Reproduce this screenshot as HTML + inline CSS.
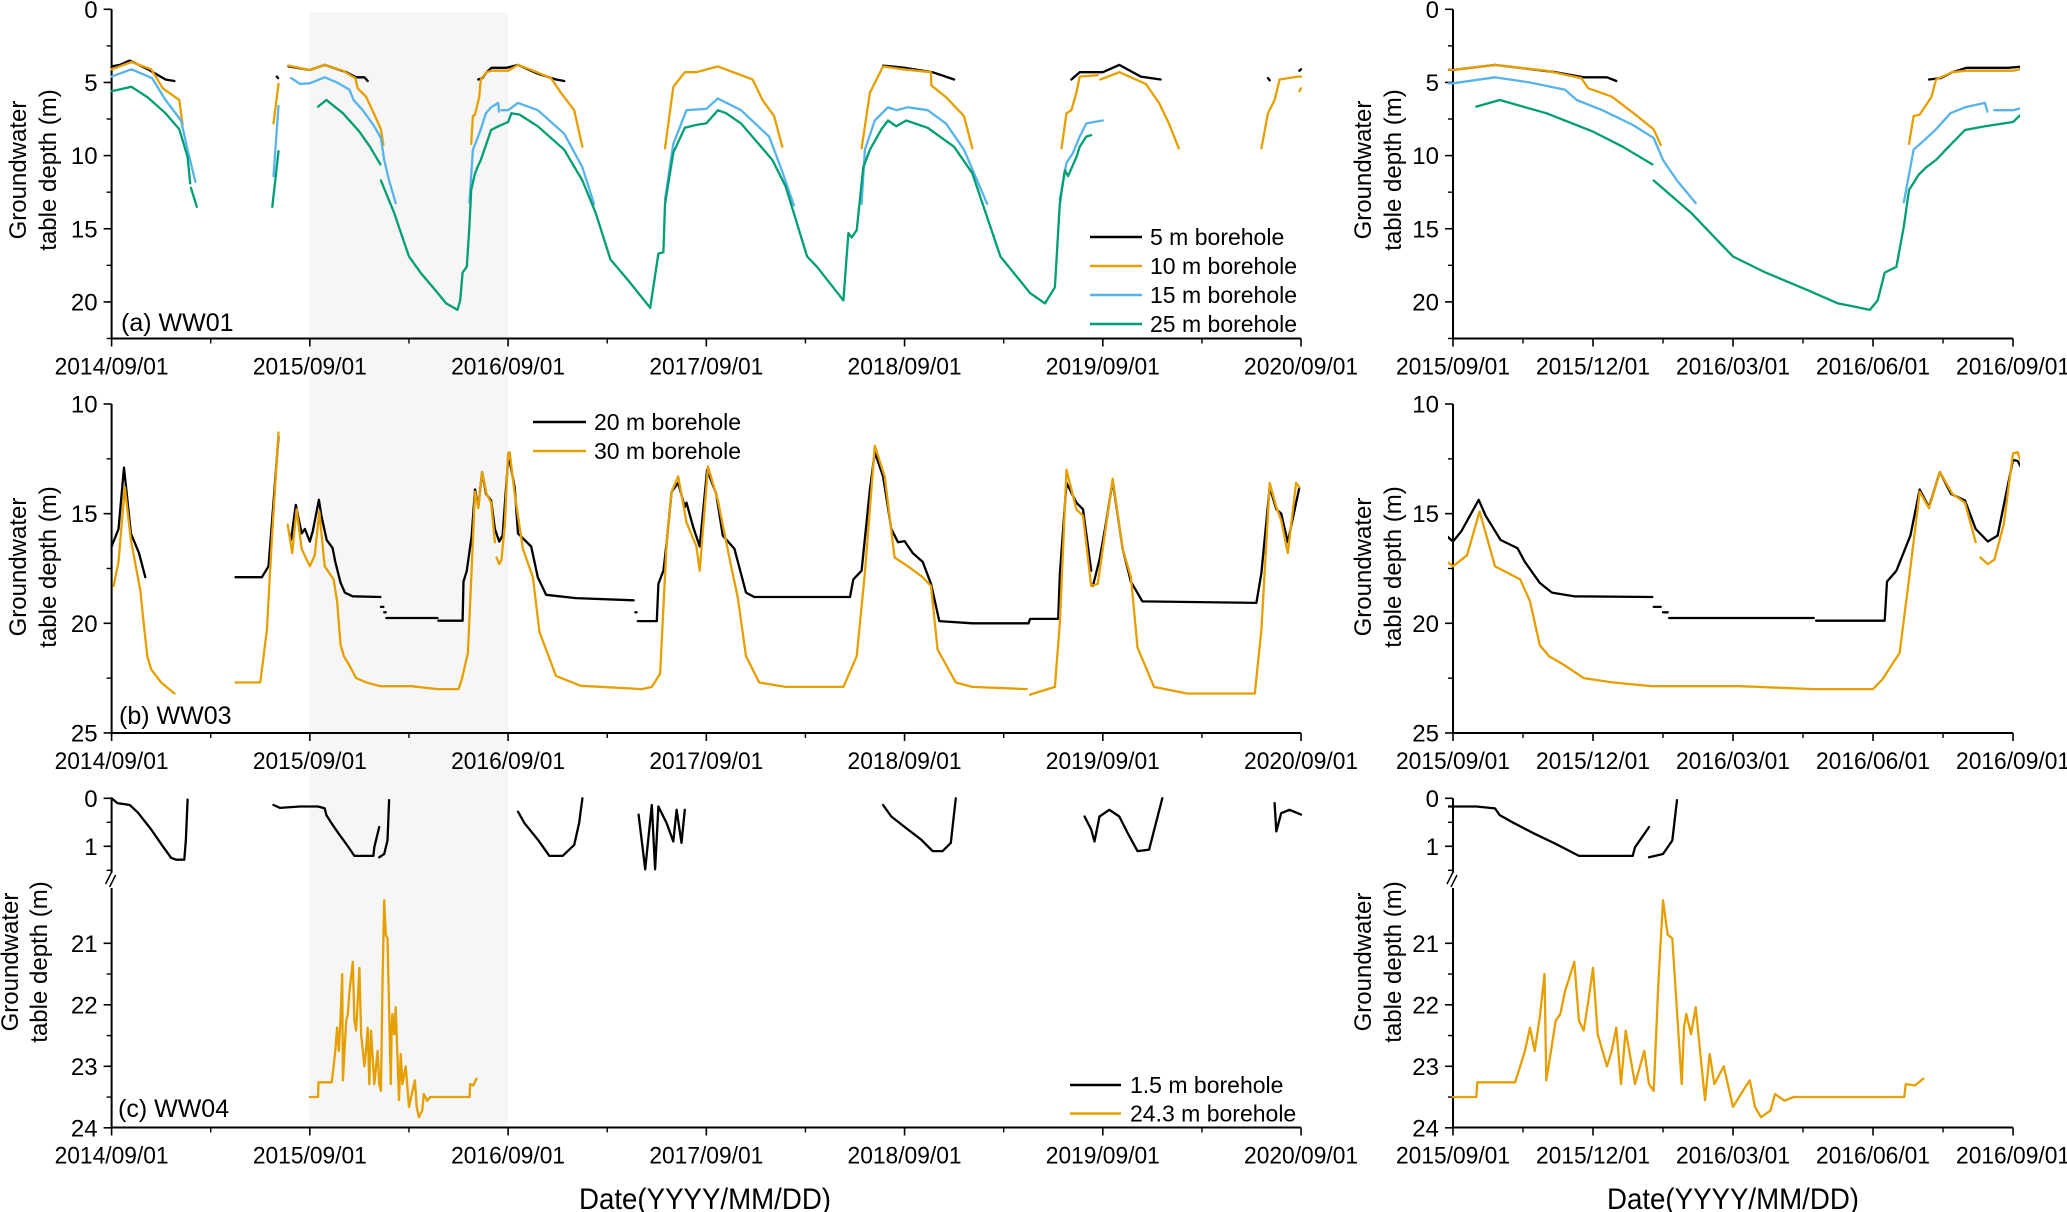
<!DOCTYPE html>
<html><head><meta charset="utf-8"><title>Groundwater table depth</title>
<style>
html,body{margin:0;padding:0;background:#fff;}
svg{display:block;font-family:"Liberation Sans",Arial,sans-serif;}
</style></head>
<body>
<svg id="chart" xmlns="http://www.w3.org/2000/svg" width="2067" height="1212" viewBox="0 0 2067 1212">
<rect x="0" y="0" width="2067" height="1212" fill="#fff"/>
</svg>
<script>
// ---- data: [month since 2014/09/01, depth m]; null = gap ----
const xTickLeftMonths = [0,12,24,36,48,60,72];
const xTickLeftLabels = ["2014/09/01","2015/09/01","2016/09/01","2017/09/01","2018/09/01","2019/09/01","2020/09/01"];
const xTickRightMonths = [12,15,18,21,24];
const xTickRightLabels = ["2015/09/01","2015/12/01","2016/03/01","2016/06/01","2016/09/01"];
const yTicksA = [0,5,10,15,20];
const yTicksB = [10,15,20,25];
const yTicksCUpper = [0,1];
const yTicksCLower = [21,22,23,24];

const wwa5 = [[0,3.9],[0.5,3.8],[1.1,3.5],[2.2,4.1],[3.26,4.8],[3.8,4.9],null,[10,4.6],[10.08,4.7],null,[10.7,3.9],[12,4.15],[12.9,3.8],[14.2,4.3],[14.8,4.65],[15.3,4.65],[15.5,4.9],null,[22.2,4.8],[22.45,4.7],[22.7,4.3],[23,4.0],[23.9,4.0],[24.6,3.8],[25.8,4.4],[26.9,4.8],[27.4,4.9],null,[46.7,3.85],[48,4.0],[49.7,4.3],[51,4.8],null,[58.1,4.8],[58.6,4.3],[60,4.3],[61,3.8],[62.3,4.6],[63.5,4.8],null,[70,4.7],[70.1,4.85],null,[71.9,4.2],[72,4.1]];
const wwa10 = [[0,4.1],[1.2,3.6],[2.4,4.1],[3.1,5.4],[4.1,6.2],[4.3,7.9],null,[9.8,7.8],[10.1,5.1],null,[10.7,3.85],[12,4.15],[12.9,3.8],[14,4.2],[14.75,4.7],[14.9,5.4],[15.4,5.97],[15.95,7.3],[16.3,8.2],[16.45,9.27],null,[21.77,9.2],[21.87,7.3],[22,7.2],[22.25,6],[22.35,4.8],[22.7,4.3],[23,4.2],[24,4.2],[24.6,3.8],[25.3,4.1],[26.6,4.7],[27.2,5.7],[28,6.9],[28.5,9.4],null,[33.5,9.5],[34,5.3],[34.7,4.3],[35.4,4.3],[36.7,3.9],[38.8,4.8],[39.4,6.2],[40.1,7.3],[40.6,9.4],null,[45.4,9.5],[45.9,5.7],[46.7,3.9],[47.9,4.1],[49.6,4.3],[49.62,5.2],[50.5,6],[51.6,7.3],[52.1,9.5],null,[57.5,9.5],[57.8,7.1],[58.1,6.9],[58.4,5.7],[58.6,4.6],[59.7,4.5],null,[59.85,4.8],[61,4.3],[62.6,5.1],[63.4,6.4],[64,7.8],[64.6,9.5],null,[69.6,9.5],[70,7.1],[70.4,6.2],[70.7,4.8],[71.8,4.6],[72,4.6],null,[71.9,5.6],[72,5.4]];
const wwa15 = [[0,4.6],[1.2,4.1],[2.45,4.7],[3.26,6.2],[4.2,7.6],[4.6,9.6],[5.07,11.8],null,[9.8,11.4],[10.1,6.6],null,[10.87,4.7],[11.4,5.1],[12,5.06],[12.9,4.65],[13.65,5.0],[14.4,5.5],[14.65,6.2],[15.2,6.9],[15.85,7.9],[16.3,8.8],[16.5,10.3],[16.8,11.7],[17.2,13.25],null,[21.66,13.2],[21.87,9.6],[22.08,9.0],[22.35,8.2],[22.66,7.1],[22.97,6.7],[23.4,6.4],[23.45,7.0],null,[23.6,6.9],[24,6.9],[24.6,6.4],[25.8,6.9],[27.4,8.5],[28.5,10.8],[29.2,13.3],null,[33.5,13],[34,9.2],[34.8,6.9],[36,6.8],[36.7,6.1],[38.1,6.9],[39.8,8.7],[40.5,10.8],[41.3,13.4],null,[45.4,13.3],[45.6,9.6],[46.2,7.6],[47,6.7],[47.5,6.9],[48.2,6.7],[49.4,6.9],[50.5,7.8],[51.6,9.6],[53,13.3],null,[57.4,13],[57.8,10.5],[58.2,9.8],[58.6,8.7],[59,7.8],[60,7.6]];
const wwa25 = [[0,5.6],[1.2,5.3],[2.17,6],[3.26,7.1],[4.1,8.2],[4.6,10.1],[4.76,11.9],null,[4.8,12.2],[5.16,13.5],null,[9.73,13.5],[10.1,9.7],null,[12.5,6.65],[13,6.2],[14,7.1],[15,8.36],[15.64,9.4],[16.27,10.6],null,[16.3,11.7],[17.1,13.9],[17.73,16],[18,16.9],[18.7,18],[19.6,19.2],[20.25,20.1],[20.56,20.3],[20.93,20.55],[21.1,19.9],[21.25,18],[21.5,17.6],[21.66,14.85],[21.77,12.35],[21.98,11.3],[22.14,10.8],[22.35,10.3],[22.56,9.6],[22.97,8.25],[23.4,8.0],[24,7.7],[24.2,7.1],[24.7,7.2],[25.8,8.0],[27.4,9.6],[28.5,11.7],[29.3,13.9],[30.2,17.1],[31.25,18.5],[32.6,20.4],[33.1,16.7],[33.4,16.6],[33.5,13.3],[34,9.8],[34.7,8.1],[35.4,7.9],[36,7.8],[36.7,6.9],[37.2,7.1],[38.1,7.8],[40,10.3],[40.8,12.1],[42.1,16.9],[42.7,17.6],[44.3,19.9],[44.6,15.3],[44.8,15.6],[45.1,15.1],[45.5,10.8],[45.9,9.6],[46.6,8.2],[47,7.6],[47.5,8],[48.1,7.6],[49.4,8.1],[51,9.4],[52.1,11.2],[53.8,16.9],[55.6,19.4],[56.5,20.1],[57.1,19],[57.4,13.3],[57.7,11],[57.9,11.4],[58.4,10.1],[58.6,9.4],[59,8.7],[59.3,8.6]];

const wwb20 = [[0,16.5],[0.42,15.7],[0.75,12.9],[1.17,15.9],[1.66,16.8],[2.04,17.9],null,[7.5,17.9],[9.1,17.9],[9.5,17.4],[9.7,15.5],[10.1,11.5],null,[10.86,16.2],[11.15,14.6],[11.5,15.9],[11.7,15.7],[12,16.27],[12.18,15.8],[12.55,14.37],[12.7,15.1],[13.02,16.2],[13.38,16.57],[13.54,17.2],[13.86,18.16],[14.12,18.6],[14.59,18.77],[16.27,18.8],null,[16.3,19.25],[16.45,19.25],null,[16.5,19.5],[16.6,19.5],null,[16.63,19.76],[19.73,19.76],null,[19.78,19.88],[21.25,19.88],[21.3,18.1],[21.5,17.6],[21.8,16],[22,13.9],[22.2,14.7],[22.43,13.1],[22.67,14.1],[22.97,14.4],[23.2,15.7],[23.46,16.27],[23.67,16.0],[24,12.55],[24.1,12.6],[24.4,13.8],[24.6,15.9],[25.4,16.5],[25.8,17.9],[26.3,18.7],[28.1,18.85],[31.6,18.95],null,[31.7,19.5],[31.78,19.5],null,[31.85,19.9],[33.0,19.9],[33.1,18.2],[33.4,17.6],[33.6,16.3],[33.9,14],[34.3,13.6],[34.7,14.7],[34.8,14.5],[35.2,15.6],[35.6,16.5],[36.05,13],[36.6,14.1],[37,16],[37.7,16.6],[38.4,18.6],[38.9,18.8],[44.7,18.8],[44.9,18],[45.4,17.6],[45.9,13.9],[46.2,12.2],[46.7,13.3],[47.2,15.7],[47.6,16.3],[48,16.25],[48.5,16.8],[49.1,17.2],[49.6,18.2],[50.1,19.9],[52.1,20],[55.5,20],[55.6,19.8],[57.3,19.8],[57.4,17.8],[57.8,13.6],[58.4,14.5],[58.8,14.8],[59.3,17.6],null,[59.4,18.3],[59.8,17.1],[60.2,15.4],[60.6,13.5],[61.2,16.6],[61.7,18.1],[62.4,19],[69.3,19.07],[69.6,17.7],[70.1,13.8],[70.5,14.8],[70.8,15],[71.2,16.3],[71.9,13.8]];
const wwb30 = [[0.12,18.3],[0.42,17.2],[0.8,13.8],[1.17,16.2],[1.74,18.5],[1.9,19.7],[2.16,21.5],[2.4,22.1],[3.0,22.7],[3.8,23.2],null,[7.5,22.7],[9.0,22.7],[9.4,20.3],[9.7,16.2],[10.1,11.3],null,[10.66,15.5],[10.93,16.8],[11.2,14.8],[11.5,16.6],[12,17.4],[12.3,16.9],[12.57,14.9],[12.9,17.4],[13.44,18],[13.65,19.0],[13.86,21],[14.06,21.5],[14.38,21.9],[14.8,22.5],[15.43,22.7],[16.27,22.87],[18.15,22.87],[19.73,23],[21,23],[21.2,22.56],[21.57,21.35],[21.77,18],[22,14],[22.2,14.75],[22.43,13.1],[22.7,14.1],[22.97,14.5],[23.2,16.3],null,[23.3,17.0],[23.46,17.3],[23.6,17.1],[23.8,15.5],[24,12.25],[24.1,12.2],[24.4,14.1],[24.9,16.6],[25.5,17.9],[25.9,20.4],[26.9,22.4],[28.4,22.85],[32.1,23],[32.7,22.9],[33.2,22.3],[33.6,16.3],[33.9,14],[34.3,13.3],[34.8,15.4],[35.4,16.5],[35.6,17.6],[36.1,12.85],[36.7,14.4],[37.5,17.4],[37.9,18.8],[38.4,21.5],[39.2,22.7],[40.8,22.9],[44.3,22.9],[45.1,21.5],[45.6,17.7],[46.2,11.9],[46.8,13.3],[47.4,17],[48.2,17.4],[49.1,17.9],[49.6,18.3],[50,21.2],[51.1,22.7],[52.1,22.9],[55.4,23],null,[55.6,23.25],[57.1,22.9],[57.4,20],[57.8,13],[58.4,14.8],[58.8,15.1],[59.3,18.3],[59.7,18.2],[60.6,13.4],[61.2,16.6],[61.7,17.9],[62.1,21.1],[63.1,22.9],[65.1,23.2],[69.2,23.2],[69.6,20.3],[70.1,13.6],[70.5,14.7],[70.8,15.3],[71.2,16.8],[71.7,13.6],[71.9,13.8]];

const wwc15 = [[0,0],[0.35,0.1],[1.1,0.14],[1.6,0.3],[2.4,0.65],[3.1,1],[3.6,1.24],[3.9,1.28],[4.4,1.28],[4.5,0.86],[4.6,0.03],null,[9.8,0.14],[10.2,0.2],[11.4,0.17],[12,0.17],[12.5,0.17],[12.9,0.21],[13,0.35],[13.33,0.53],[13.75,0.74],[14.2,0.95],[14.7,1.2],[15.85,1.2],[15.9,1.02],[16.2,0.6],null,[16.2,1.23],[16.5,1.16],[16.7,0.88],[16.8,0.04],null,[24.6,0.28],[25,0.52],[25.8,0.86],[26.5,1.2],[27.3,1.2],[28,0.97],[28.3,0.52],[28.5,0],null,[31.9,0.34],[32.3,1.48],[32.7,0.14],[32.9,1.48],[33.1,0.17],[33.6,0.52],[34,0.9],[34.2,0.24],[34.5,0.93],[34.7,0.24],null,[46.7,0.14],[47.2,0.38],[48.2,0.65],[49,0.86],[49.7,1.1],[50.3,1.1],[50.8,0.93],[51.1,0],null,[58.9,0.38],[59.3,0.65],[59.5,0.9],[59.8,0.38],[60.4,0.24],[61,0.38],[61.5,0.72],[62.1,1.1],[62.8,1.07],[63.6,0],null,[70.4,0.1],[70.5,0.69],[70.8,0.31],[71.3,0.24],[72,0.34]];
const wwc243 = [[12,23.5],[12.5,23.5],[12.52,23.26],[13.33,23.26],[13.44,23.0],[13.54,22.75],[13.65,22.37],[13.75,22.75],[13.86,22.2],[13.96,21.5],[14.0,23.23],[14.1,22.75],[14.2,22.26],[14.3,22.15],[14.4,21.78],[14.6,21.3],[14.7,22.26],[14.8,22.42],[14.9,21.94],[15,21.4],[15.1,22.48],[15.3,23.0],[15.4,22.75],[15.5,22.37],[15.6,23.29],[15.7,22.42],[15.9,23.29],[16.1,22.75],[16.2,23.29],[16.3,23.4],[16.4,21.67],[16.5,20.3],[16.6,20.86],[16.7,20.92],[16.9,23.29],[16.95,22.37],[17.0,22.15],[17.1,22.48],[17.2,22.04],[17.4,23.55],[17.5,22.8],[17.6,23.29],[17.8,23.0],[18,23.66],[18.26,23.34],[18.36,23.23],[18.47,23.66],[18.6,23.83],[18.8,23.72],[18.9,23.45],[19.1,23.56],[19.3,23.5],[20,23.5],[21.67,23.5],[21.7,23.29],[21.9,23.31],[22.08,23.2]];

const C_BLACK="#000000", C_ORANGE="#E69F00", C_BLUE="#56B4E9", C_GREEN="#009E73";
const NS="http://www.w3.org/2000/svg";
const svg=document.getElementById('chart');

// axis functions
const xL = m => 111.6 + m*16.52;
const xR = m => 1453 + (m-12)*46.67;
const yA = d => 9.3 + d*14.63;
const yB = d => 404 + (d-10)*21.93;
const yCu = d => 798.3 + d*48;
const yCl = d => 943.3 + (d-21)*61.5;

function mk(tag, attrs, parent){
  const e=document.createElementNS(NS,tag);
  for(const k in attrs) e.setAttribute(k,attrs[k]);
  (parent||svg).appendChild(e);
  return e;
}
function pathD(data, fx, fy){
  let d="", pen=false;
  for(const p of data){
    if(p===null){pen=false;continue;}
    d += (pen?"L":"M") + fx(p[0]).toFixed(1) + " " + fy(p[1]).toFixed(1) + " ";
    pen=true;
  }
  return d;
}
function txt(x,y,s,size,anchor,extra,parent){
  const t=mk('text',Object.assign({x:x,y:y,'font-size':size,'text-anchor':anchor||'start',fill:'#000'},extra||{}),parent);
  t.textContent=s;
  return t;
}

// clip paths
const defs=mk('defs',{});
const clips=[["clipL",100,1310],["clipR",1448,2020]];
for(const c of clips){
  const cp=mk('clipPath',{id:c[0]},defs);
  mk('rect',{x:c[1],y:0,width:c[2]-c[1],height:1212},cp);
}

// shaded highlight
const shade=mk('rect',{x:xL(12),y:12,width:xL(24)-xL(12),height:1127.5-12,fill:"#f6f6f6"});



function drawXAxis(yAx, isLeft, name){
  const g=mk('g',{});
  
  
  const fx=isLeft?xL:xR;
  const m0=isLeft?0:12, m1=isLeft?72:24;
  mk('line',{x1:fx(m0),y1:yAx,x2:fx(m1),y2:yAx,stroke:'#000','stroke-width':2},g);
  const mons=isLeft?xTickLeftMonths:xTickRightMonths;
  const labs=isLeft?xTickLeftLabels:xTickRightLabels;
  const step=isLeft?12:3;
  for(let i=0;i<mons.length;i++){
    mk('line',{x1:fx(mons[i]),y1:yAx,x2:fx(mons[i]),y2:yAx+8,stroke:'#000','stroke-width':1.6},g);
    if(i<mons.length-1){
      const mm=mons[i]+step/2;
      mk('line',{x1:fx(mm),y1:yAx,x2:fx(mm),y2:yAx+5,stroke:'#000','stroke-width':1.4},g);
    }
    const t=txt(fx(mons[i]),yAx+36,labs[i],24,'middle',{textLength:114,lengthAdjust:'spacingAndGlyphs'},g);
    
    
  }
}
function drawYAxis(xAx, fy, ticks, y0, y1, name){
  const g=mk('g',{});
  
  
  mk('line',{x1:xAx,y1:fy(y0),x2:xAx,y2:fy(y1),stroke:'#000','stroke-width':2},g);
  for(let i=0;i<ticks.length;i++){
    const v=ticks[i];
    mk('line',{x1:xAx-8,y1:fy(v),x2:xAx,y2:fy(v),stroke:'#000','stroke-width':1.6},g);
    const t=txt(xAx-14,fy(v)+8.5,String(v),24,'end',{},g);
    
    
  }
  const step=ticks[1]-ticks[0];
  for(let v=ticks[0]+step/2; v<=y1+0.001; v+=step){
    mk('line',{x1:xAx-5,y1:fy(v),x2:xAx,y2:fy(v),stroke:'#000','stroke-width':1.4},g);
  }
}
function yTitle(x1,x2,cy,name){
  const g=mk('g',{});
  
  
  let t=txt(0,0,"Groundwater",24,'middle',{transform:`translate(${x1},${cy}) rotate(-90)`},g);
  t=txt(0,0,"table depth (m)",24,'middle',{transform:`translate(${x2},${cy}) rotate(-90)`},g);
}
function series(data, fx, fy, color, clip, name){
  const p=mk('path',{d:pathD(data,fx,fy),fill:'none',stroke:color,'stroke-width':2.3,'stroke-linejoin':'round','stroke-linecap':'round','clip-path':`url(#${clip})`});
  
  
}

for(const side of ['left','right']){
  const isL=side==='left';
  const fx=isL?xL:xR, clip=isL?'clipL':'clipR', ax=isL?111.6:1453;
  // panel a
  drawXAxis(338.5,isL,'x-axis-a-'+side);
  drawYAxis(ax,yA,yTicksA,0,22.5,'y-axis-a-'+side);
  series(wwa5,fx,yA,C_BLACK,clip,'series-5m-'+side);
  series(wwa10,fx,yA,C_ORANGE,clip,'series-10m-'+side);
  series(wwa15,fx,yA,C_BLUE,clip,'series-15m-'+side);
  series(wwa25,fx,yA,C_GREEN,clip,'series-25m-'+side);
  // panel b
  drawXAxis(733,isL,'x-axis-b-'+side);
  drawYAxis(ax,yB,yTicksB,10,25,'y-axis-b-'+side);
  series(wwb20,fx,yB,C_BLACK,clip,'series-20m-'+side);
  series(wwb30,fx,yB,C_ORANGE,clip,'series-30m-'+side);
  // panel c
  drawXAxis(1127.5,isL,'x-axis-c-'+side);
  drawYAxis(ax,yCu,yTicksCUpper,0,1.55,'y-axis-c-upper-'+side);
  drawYAxis(ax,yCl,yTicksCLower,20.1,24,'y-axis-c-lower-'+side);
  const br=mk('g',{stroke:'#000','stroke-width':1.5});
  
  
  mk('line',{x1:ax-6,y1:884,x2:ax,y2:872},br);
  mk('line',{x1:ax-2,y1:887,x2:ax+4,y2:875},br);
  series(wwc15,fx,yCu,C_BLACK,clip,'series-1-5m-'+side);
  series(wwc243,fx,yCl,C_ORANGE,clip,'series-24-3m-'+side);
  // titles
  if(isL){
    yTitle(26,56,170,'y-axis-title-a');
    yTitle(26,56,567,'y-axis-title-b');
    yTitle(18,47,962,'y-axis-title-c');
  } else {
    yTitle(1371,1401,170,'y-axis-title-a-right');
    yTitle(1371,1401,567,'y-axis-title-b-right');
    yTitle(1371,1401,962,'y-axis-title-c-right');
  }
}

// panel labels
let pl=txt(121,331,"(a) WW01",25,'start');


pl=txt(119,724,"(b) WW03",25,'start');


pl=txt(118,1117,"(c) WW04",25,'start');



// x-axis titles
let xt=txt(705,1209,"Date(YYYY/MM/DD)",30,'middle',{textLength:252,lengthAdjust:'spacingAndGlyphs'});


xt=txt(1733,1209,"Date(YYYY/MM/DD)",30,'middle',{textLength:252,lengthAdjust:'spacingAndGlyphs'});



// legends
const legA=[["5 m borehole",C_BLACK],["10 m borehole",C_ORANGE],["15 m borehole",C_BLUE],["25 m borehole",C_GREEN]];
const legB=[["20 m borehole",C_BLACK],["30 m borehole",C_ORANGE]];
const legC=[["1.5 m borehole",C_BLACK],["24.3 m borehole",C_ORANGE]];
function legend(items,x1,x2,tx,y0,dy,name){
  const g=mk('g',{});
  
  
  items.forEach((it,i)=>{
    const y=y0+i*dy;
    const e=mk('g',{},g);
    
    
    mk('line',{x1:x1,y1:y,x2:x2,y2:y,stroke:it[1],'stroke-width':2.6},e);
    txt(tx,y+8,it[0],23,'start',{},e);
  });
}
legend(legA,1090,1142,1150,237,29,'legend-a');
legend(legB,533,586,594,422,29,'legend-b');
legend(legC,1070,1121,1130,1085,28.5,'legend-c');
</script>
</body></html>
